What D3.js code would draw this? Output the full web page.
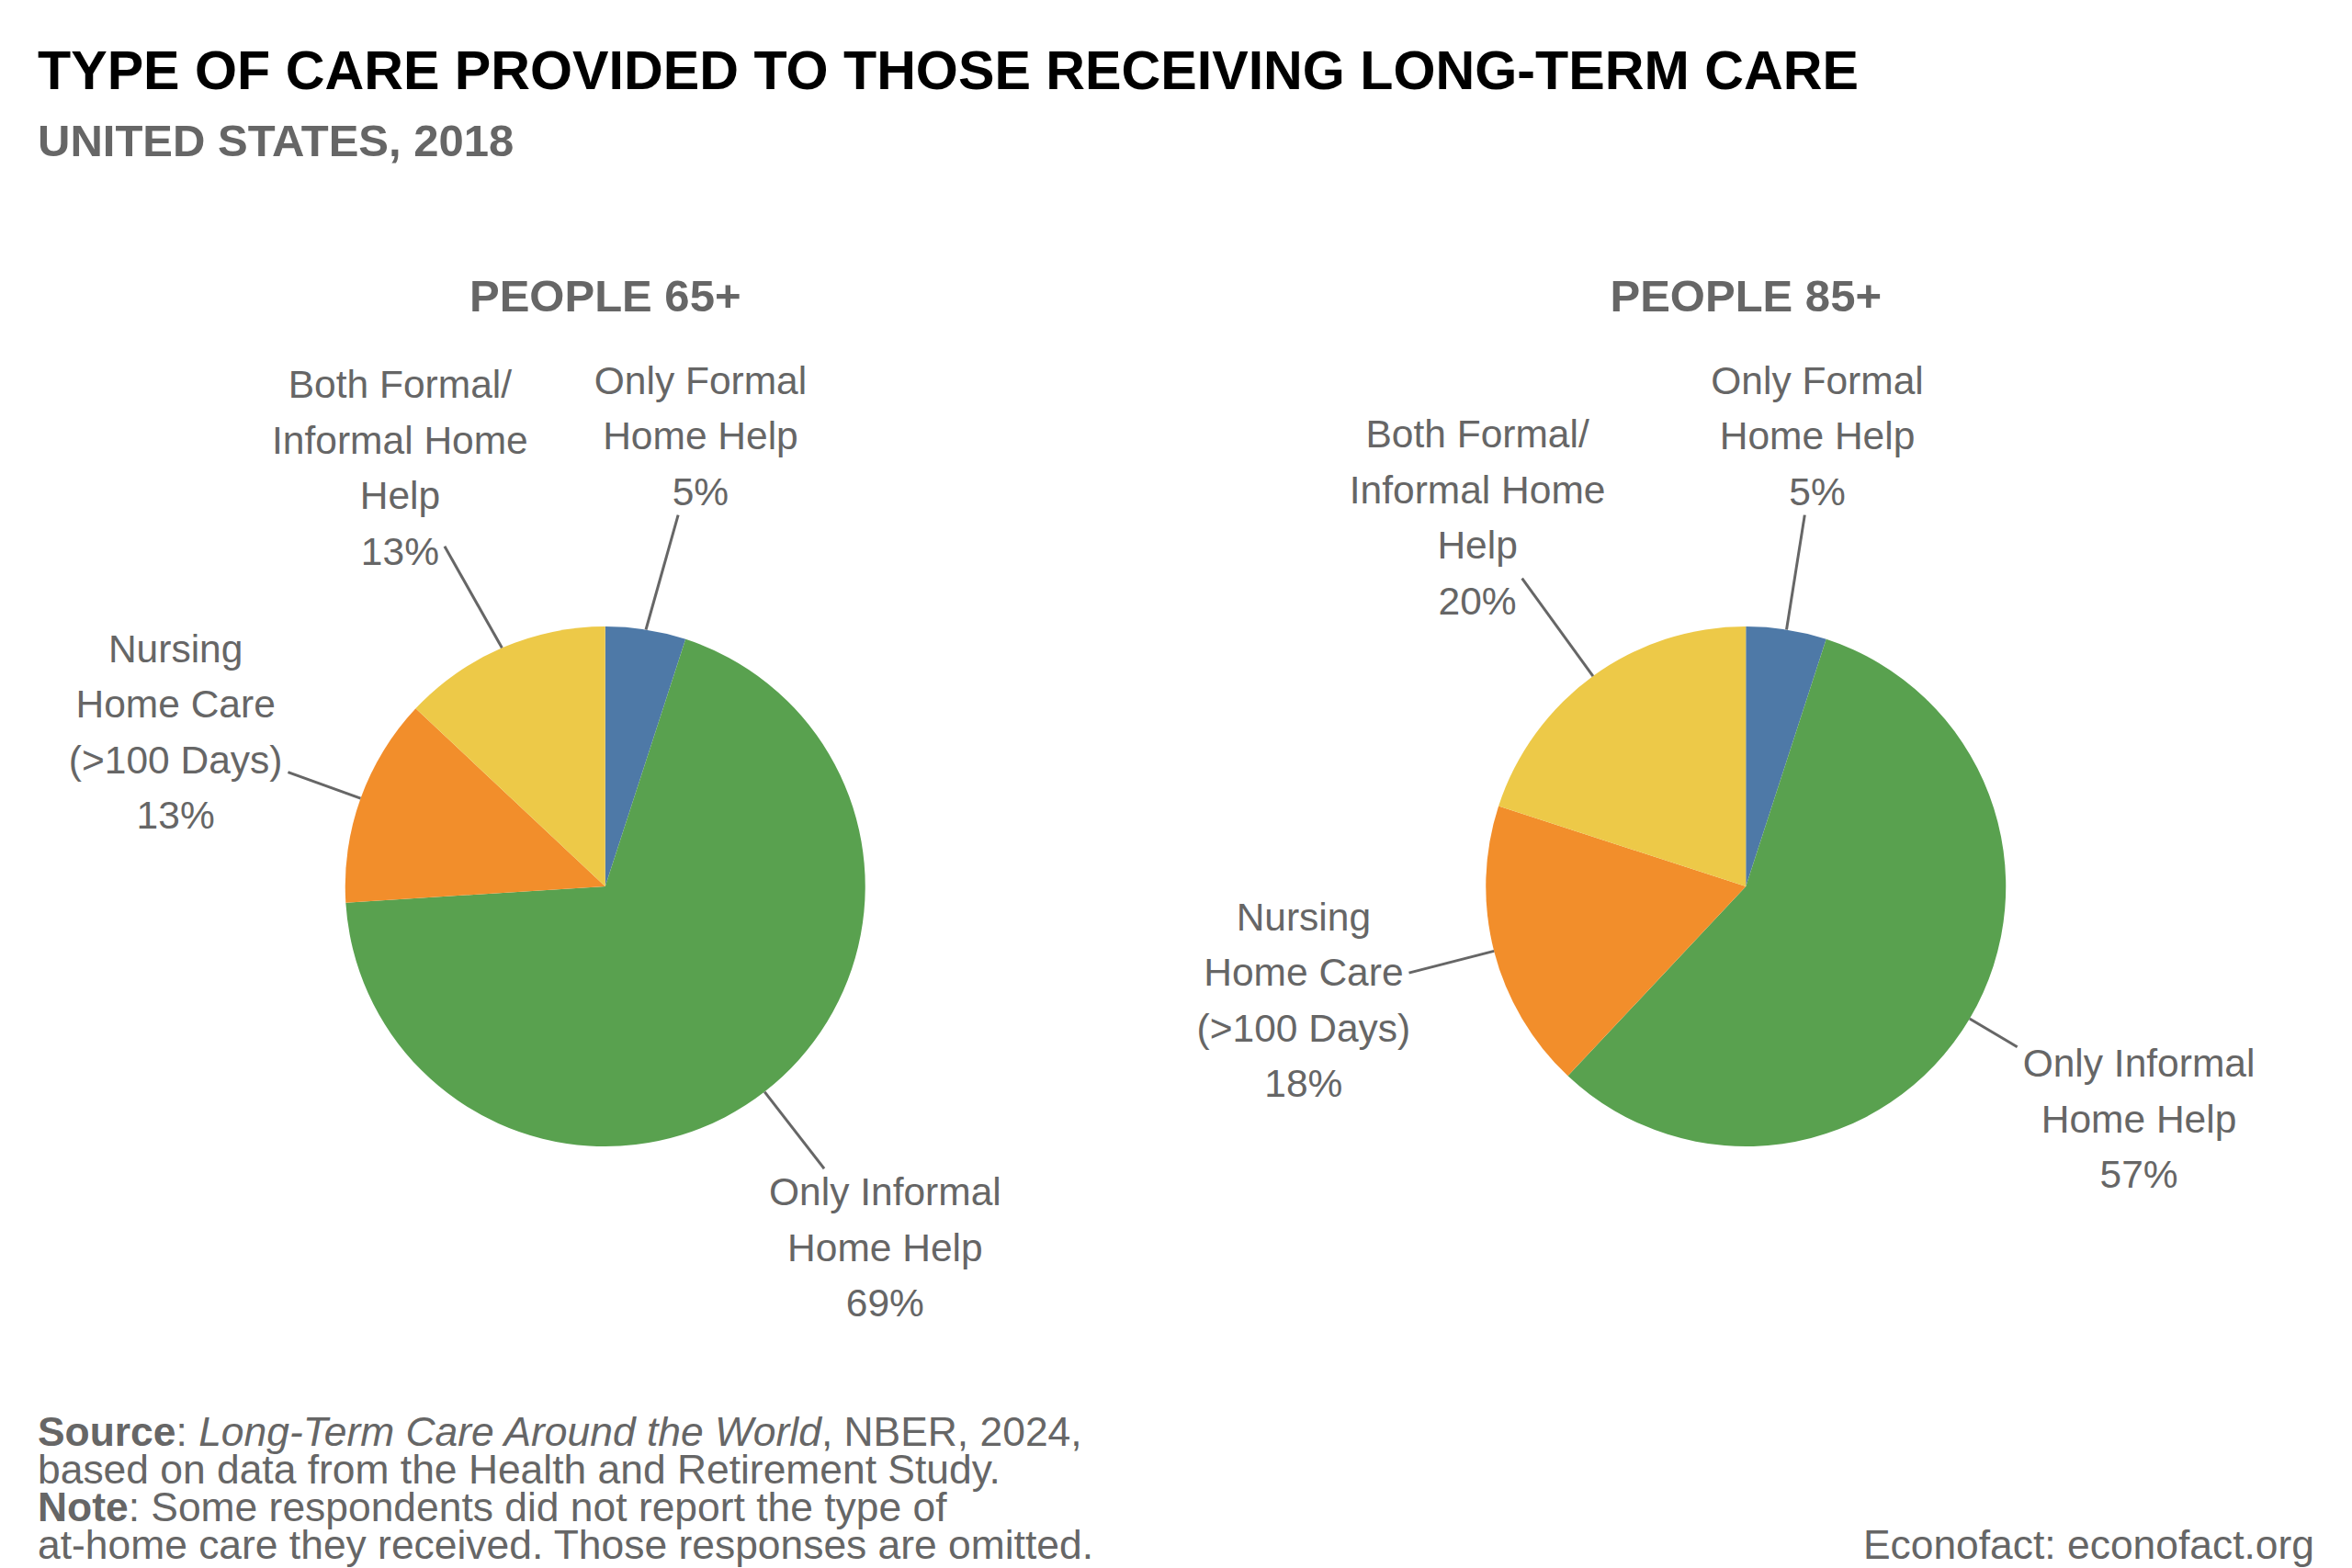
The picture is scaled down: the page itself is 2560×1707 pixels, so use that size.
<!DOCTYPE html>
<html>
<head>
<meta charset="utf-8">
<script src="https://cdn.jsdelivr.net/npm/d3@7"></script>
<style>
  body { margin: 0; background: #fff; }
  text { font-family: "Liberation Sans", Arial, sans-serif; }
</style>
</head>
<body>
<script>
// data
const panels = ["PEOPLE 65+", "PEOPLE 85+"];
const categories = [
  "Only Formal Home Help",
  "Only Informal Home Help",
  "Nursing Home Care (>100 Days)",
  "Both Formal/Informal Home Help",
];
const labelLines = [
  ["Only Formal", "Home Help"],
  ["Only Informal", "Home Help"],
  ["Nursing", "Home Care", "(>100 Days)"],
  ["Both Formal/", "Informal Home", "Help"],
];
const values65 = [5, 69, 13, 13];
const values85 = [5, 57, 18, 20];
const seriesValues = [values65, values85];
const sliceColors = ["#4E79A7", "#59A14F", "#F28E2B", "#EDC948"];

const width = 2560,
  height = 1707;
const gray = "#666666";

const svg = d3
  .select("body")
  .append("svg")
  .attr("width", width)
  .attr("height", height);

svg.append("rect").attr("width", width).attr("height", height).attr("fill", "#fff");

// titles
svg
  .append("text")
  .attr("x", 41)
  .attr("y", 97)
  .attr("font-size", 59.2)
  .attr("font-weight", "bold")
  .attr("fill", "#000")
  .text("TYPE OF CARE PROVIDED TO THOSE RECEIVING LONG-TERM CARE");

svg
  .append("text")
  .attr("x", 41)
  .attr("y", 170)
  .attr("font-size", 49)
  .attr("font-weight", "bold")
  .attr("fill", gray)
  .text("UNITED STATES, 2018");

// scales
const x = d3.scaleBand().domain(panels).range([38, 2521]);
const color = d3.scaleOrdinal().domain(categories).range(sliceColors);
const cy = 965;
const r = 283;
const labelR = 497;
const lineH = 60.5;
const minGap = 72;

const pie = d3
  .pie()
  .sort(null)
  .value((d) => d.value);
const arc = d3.arc().innerRadius(0).outerRadius(r);

// where the ray from p along d first enters box b
function enterT(px, py, dx, dy, b) {
  let t0 = -Infinity,
    t1 = Infinity;
  const lo = [b.x, b.y],
    hi = [b.x + b.width, b.y + b.height],
    p = [px, py],
    d = [dx, dy];
  for (let k = 0; k < 2; k++) {
    if (Math.abs(d[k]) < 1e-9) {
      if (p[k] < lo[k] || p[k] > hi[k]) return Infinity;
    } else {
      let a = (lo[k] - p[k]) / d[k],
        c = (hi[k] - p[k]) / d[k];
      if (a > c) [a, c] = [c, a];
      t0 = Math.max(t0, a);
      t1 = Math.min(t1, c);
    }
  }
  return t0 <= t1 && t0 >= 0 ? t0 : Infinity;
}

panels.forEach((panel, pi) => {
  const cx = x(panel) + x.bandwidth() / 2;
  const data = categories.map((c, i) => ({
    cat: c,
    value: seriesValues[pi][i],
    lines: labelLines[i].concat([seriesValues[pi][i] + "%"]),
  }));

  svg
    .append("text")
    .attr("x", cx)
    .attr("y", 339)
    .attr("text-anchor", "middle")
    .attr("font-size", 49)
    .attr("font-weight", "bold")
    .attr("fill", gray)
    .text(panel);

  const g = svg.append("g").attr("transform", `translate(${cx},${cy})`);

  const arcs = pie(data);

  g.selectAll("path.slice")
    .data(arcs)
    .enter()
    .append("path")
    .attr("class", "slice")
    .attr("d", arc)
    .attr("fill", (d) => color(d.data.cat));

  // labels outside, on the mid angle of each slice
  const labels = arcs.map((a) => {
    const mid = (a.startAngle + a.endAngle) / 2;
    const lx = Math.sin(mid) * labelR,
      ly = -Math.cos(mid) * labelR;
    const n = a.data.lines.length;
    const lab = g.append("g").attr("class", "label");
    const texts = a.data.lines.map((s, i) =>
      lab
        .append("text")
        .attr("x", lx)
        .attr("y", ly + (i - (n - 1) / 2) * lineH + 15)
        .attr("text-anchor", "middle")
        .attr("font-size", 42.5)
        .attr("fill", gray)
        .text(s)
    );
    return { mid, lx, ly, lab, texts, shift: 0, box: lab.node().getBBox() };
  });

  // push labels apart sideways when they sit too close
  for (let iter = 0; iter < 10; iter++) {
    let moved = false;
    labels.forEach((A, i) =>
      labels.forEach((B, j) => {
        if (j <= i) return;
        const ax0 = A.box.x + A.shift,
          ax1 = ax0 + A.box.width,
          bx0 = B.box.x + B.shift,
          bx1 = bx0 + B.box.width;
        const vOverlap =
          A.box.y < B.box.y + B.box.height && B.box.y < A.box.y + A.box.height;
        if (!vOverlap) return;
        const gap = ax0 < bx0 ? bx0 - ax1 : ax0 - bx1;
        if (gap < minGap) {
          const d = (minGap - gap) / 2;
          if (ax0 < bx0) {
            A.shift -= d;
            B.shift += d;
          } else {
            A.shift += d;
            B.shift -= d;
          }
          moved = true;
        }
      })
    );
    if (!moved) break;
  }

  labels.forEach((L) => {
    L.lab.attr("transform", `translate(${L.shift},0)`);
    const boxes = L.texts.map((t) => {
      const b = t.node().getBBox();
      return { x: b.x + L.shift - 6, y: b.y - 2, width: b.width + 12, height: b.height + 4 };
    });

    // leader line: slice edge to the label text
    const sx = Math.sin(L.mid) * r,
      sy = -Math.cos(L.mid) * r;
    const dx = L.lx + L.shift - sx,
      dy = L.ly - sy;
    let tMin = d3.min(boxes, (b) => enterT(sx, sy, dx, dy, b));
    if (!isFinite(tMin)) tMin = 0.5;
    g.append("line")
      .attr("x1", sx)
      .attr("y1", sy)
      .attr("x2", sx + dx * tMin)
      .attr("y2", sy + dy * tMin)
      .attr("stroke", "#666")
      .attr("stroke-width", 3);
  });
});

// footnote
const foot = svg
  .append("g")
  .attr("font-size", 44.4)
  .attr("fill", gray);

const l1 = foot.append("text").attr("x", 41).attr("y", 1574);
l1.append("tspan").attr("font-weight", "bold").text("Source");
l1.append("tspan").text(": ");
l1.append("tspan").attr("font-style", "italic").text("Long-Term Care Around the World");
l1.append("tspan").text(", NBER, 2024,");

foot
  .append("text")
  .attr("x", 41)
  .attr("y", 1615)
  .text("based on data from the Health and Retirement Study.");

const l3 = foot.append("text").attr("x", 41).attr("y", 1656);
l3.append("tspan").attr("font-weight", "bold").text("Note");
l3.append("tspan").text(": Some respondents did not report the type of");

foot
  .append("text")
  .attr("x", 41)
  .attr("y", 1697)
  .text("at-home care they received. Those responses are omitted.");

svg
  .append("text")
  .attr("x", 2519)
  .attr("y", 1697)
  .attr("text-anchor", "end")
  .attr("font-size", 44.4)
  .attr("fill", gray)
  .text("Econofact: econofact.org");
</script>
</body>
</html>
